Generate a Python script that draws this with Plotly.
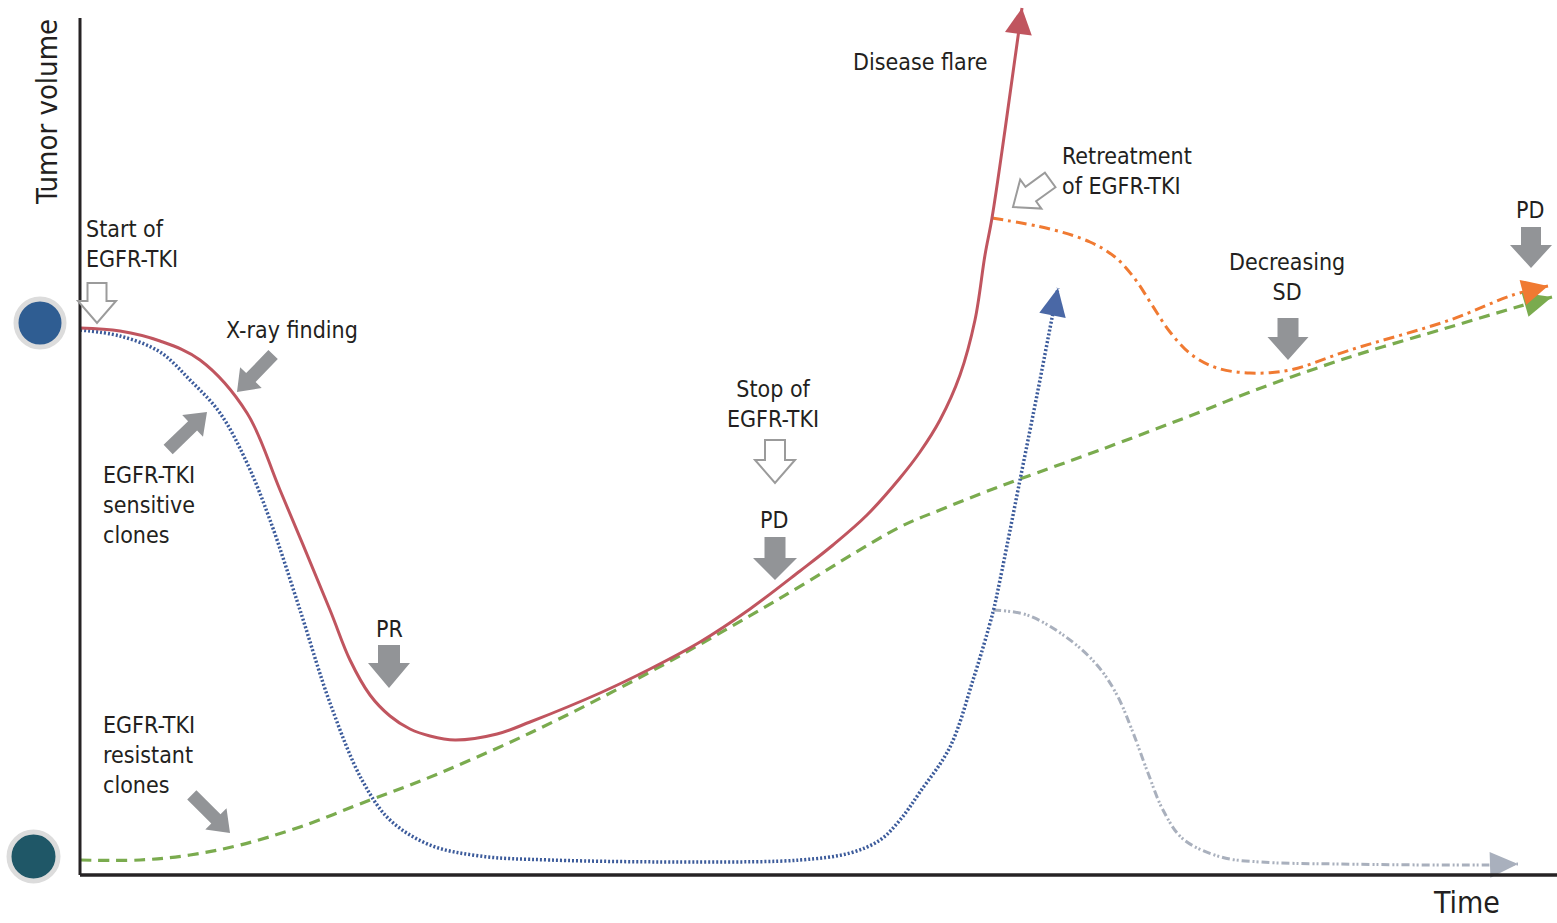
import math
import plotly.graph_objects as go

# Schematic units: x = time (arbitrary), y = tumour volume (arbitrary)

# Whole tumour under EGFR-TKI, ending in a disease flare
flare_t = [0, 40, 80, 120, 167, 200, 250, 270, 290, 310, 330, 350, 375, 417, 450, 520, 570,
           620, 670, 720, 753, 787, 820, 840, 860, 880, 895, 905, 912, 925, 942]
flare_v = [547, 544, 534, 515, 462, 385, 265, 215, 180, 159, 146, 139, 135, 141, 153, 182, 206,
           233, 266, 304, 330, 360, 397, 423, 455, 500, 555, 620, 657, 745, 867]

# EGFR-TKI sensitive clones
sens_t = [0, 40, 80, 110, 140, 167, 190, 220, 250, 282, 310, 350, 400, 470, 620,
          720, 770, 800, 820, 840, 870, 893, 913, 920, 940, 958, 972, 978]
sens_v = [545, 539, 523, 495, 462, 412, 355, 265, 172, 95, 55, 30, 19, 15, 13,
          15, 22, 35, 55, 83, 128, 195, 263, 295, 395, 485, 557, 587]

# EGFR-TKI resistant clones
res_t = [0, 60, 110, 160, 220, 290, 343, 450, 570, 697, 820, 860, 900, 940, 1020,
         1120, 1170, 1270, 1370, 1437, 1472]
res_v = [15, 15, 20, 30, 48, 75, 95, 142, 203, 275, 348, 365, 381, 396, 425,
         463, 483, 518, 548, 568, 578]

# Tumour volume after retreatment with EGFR-TKI
retreat_t = [912, 970, 1010, 1035, 1055, 1072, 1090, 1112, 1137, 1170, 1210, 1270, 1370, 1433, 1468]
retreat_v = [657, 646, 633, 618, 596, 570, 543, 520, 507, 502, 505, 525, 555, 580, 589]

# Sensitive clones after retreatment
sens2_t = [913, 947, 986, 1017, 1037, 1052, 1068, 1083, 1103, 1141, 1180, 1258, 1405, 1438]
sens2_v = [265, 260, 238, 210, 180, 145, 102, 65, 36, 18, 13, 11, 10, 11]

TEXT = "#231f20"
FONT = "Liberation Sans Narrow, DejaVu Sans Condensed, Arial Narrow, sans-serif"

fig = go.Figure()
shapes = []


def head_path(t, v, length, width):
    # Triangle arrowhead whose tip sits on the last point of a series
    tx, ty = t[-1], v[-1]
    dx, dy = tx - t[-2], ty - v[-2]
    n = math.hypot(dx, dy)
    dx, dy = dx / n, dy / n
    nx, ny = -dy, dx
    bx, by = tx - dx * length, ty - dy * length
    pts = [(tx, ty), (bx + nx * width / 2, by + ny * width / 2),
           (bx - nx * width / 2, by - ny * width / 2)]
    return "M " + " L ".join(f"{x:.1f},{y:.1f}" for x, y in pts) + " Z"


def curve(t, v, color, width, dash, head_color, head_len=27, head_w=26):
    fig.add_trace(go.Scatter(
        x=t, y=v, mode="lines",
        line=dict(color=color, width=width, dash=dash, shape="spline", smoothing=1.0),
        hoverinfo="skip",
    ))
    shapes.append(dict(type="path", path=head_path(t, v, head_len, head_w),
                       fillcolor=head_color, line=dict(width=0)))


curve(res_t, res_v, "#7aab4e", 3.2, "11px,7px", "#7aab4e", 28, 25)
curve(retreat_t, retreat_v, "#f07a32", 3, "11px,5px,3px,5px", "#f07a32", 26, 26)
curve(sens2_t, sens2_v, "#a9b0bd", 3, "8px,3px,2px,2px,2px,3px", "#a9b0bd", 28, 26)
curve(sens_t, sens_v, "#3c5b9b", 3.5, "2px,2px", "#4a68a6", 28, 27)
curve(flare_t, flare_v, "#c0555f", 3, "solid", "#c0555f", 26, 27)


def block_arrow(tip, angle, length, shaft_w, head_w, head_len):
    tx, ty = tip
    a = math.radians(angle)
    dx, dy = math.cos(a), math.sin(a)
    nx, ny = -dy, dx
    bx, by = tx - dx * head_len, ty - dy * head_len
    ex, ey = tx - dx * length, ty - dy * length
    pts = [
        (ex + nx * shaft_w / 2, ey + ny * shaft_w / 2),
        (bx + nx * shaft_w / 2, by + ny * shaft_w / 2),
        (bx + nx * head_w / 2, by + ny * head_w / 2),
        (tx, ty),
        (bx - nx * head_w / 2, by - ny * head_w / 2),
        (bx - nx * shaft_w / 2, by - ny * shaft_w / 2),
        (ex - nx * shaft_w / 2, ey - ny * shaft_w / 2),
    ]
    return "M " + " L ".join(f"{x:.1f},{y:.1f}" for x, y in pts) + " Z"


# Axes
shapes.append(dict(type="line", x0=0, y0=0, x1=0, y1=857,
                   line=dict(color="#262324", width=3)))
shapes.append(dict(type="line", x0=0, y0=0, x1=1477, y1=0,
                   line=dict(color="#262324", width=3.5)))

# Hollow arrows: treatment events (tip, angle, length, shaft, head width, head length)
hollow = [
    ((17, 552), -90, 40, 19, 38, 22),
    ((695, 392), -90, 43, 20, 40, 23),
    ((933, 668), -144, 46, 18, 36, 22),
]
for tip, ang, ln, sw, hw, hl in hollow:
    shapes.append(dict(type="path", path=block_arrow(tip, ang, ln, sw, hw, hl),
                       fillcolor="white", line=dict(color="#9b9b9b", width=2)))

# Filled arrows: findings and responses
filled = [
    ((157, 483), -134, 52, 13, 30, 20),
    ((127, 463), 44, 54, 13, 30, 20),
    ((150, 42), -45, 54, 13, 30, 20),
    ((309, 187), -90, 43, 22, 42, 25),
    ((695, 295), -90, 43, 21, 44, 22),
    ((1208, 515), -90, 42, 21, 41, 23),
    ((1451, 607), -90, 41, 20, 42, 23),
]
for tip, ang, ln, sw, hw, hl in filled:
    shapes.append(dict(type="path", path=block_arrow(tip, ang, ln, sw, hw, hl),
                       fillcolor="#929497", line=dict(width=0)))

# Dots marking the two starting volumes
shapes.append(dict(type="circle", x0=-64, x1=-16, y0=528, y1=576,
                   fillcolor="#2f5d92", line=dict(color="#dcdcdc", width=5)))
shapes.append(dict(type="circle", x0=-71, x1=-22, y0=-6, y1=43,
                   fillcolor="#1f5767", line=dict(color="#dcdcdc", width=5)))

fig.update_layout(shapes=shapes)


def label(x, y, text, size=23, xanchor="center", align="center", angle=0, yanchor="middle"):
    fig.add_annotation(x=x, y=y, xref="x", yref="y", text=text, showarrow=False,
                       xanchor=xanchor, yanchor=yanchor, align=align, textangle=angle,
                       font=dict(family=FONT, size=size, color=TEXT))


label(-33, 763, "Tumor volume", size=29, angle=-90)
label(1386, -47, "Time", size=30, yanchor="bottom")
label(4, 631, "Start of<br>EGFR-TKI", xanchor="left", align="left")
label(212, 545, "X-ray finding")
label(21, 370, "EGFR-TKI<br>sensitive<br>clones", xanchor="left", align="left")
label(21, 120, "EGFR-TKI<br>resistant<br>clones", xanchor="left", align="left")
label(309, 246, "PR")
label(693, 471, "Stop of<br>EGFR-TKI")
label(694, 355, "PD")
label(840, 813, "Disease flare")
label(980, 704, "Retreatment<br>of EGFR-TKI", xanchor="left", align="left")
label(1207, 598, "Decreasing<br>SD")
label(1450, 665, "PD")

fig.update_layout(
    width=1557, height=923, autosize=False,
    margin=dict(l=0, r=0, t=0, b=0),
    paper_bgcolor="white", plot_bgcolor="white",
    showlegend=False,
    xaxis=dict(range=[-80, 1477], visible=False, fixedrange=True),
    yaxis=dict(range=[-48, 875], visible=False, fixedrange=True),
)

fig.write_html("out.html")
